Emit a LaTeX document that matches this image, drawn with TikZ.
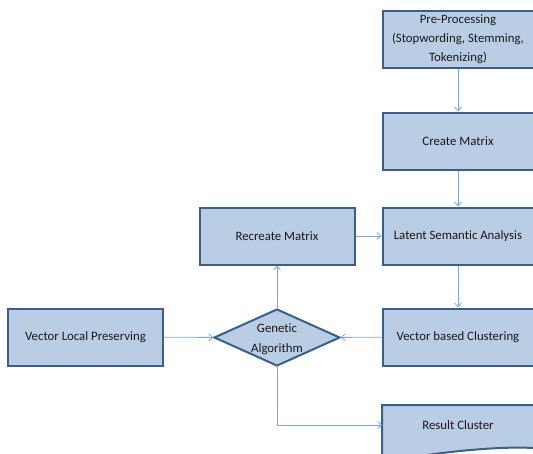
\documentclass[tikz,border=0pt]{standalone}
\usepackage{fontspec}
\setmainfont{Carlito}[Ligatures=NoCommon]
\usetikzlibrary{shapes.geometric,arrows.meta}
\definecolor{boxfill}{HTML}{B9CDE5}
\definecolor{boxline}{HTML}{3A5F8B}
\definecolor{arrowc}{HTML}{7FA6D6}
\tikzset{
  lbl/.style={font=\fontsize{12.8}{19}\selectfont, text=black!90},
  procbox/.style={draw=boxline, fill=boxfill, line width=2pt, rectangle,
    minimum width=151pt, minimum height=57pt, inner sep=2pt, align=center, lbl},
  decbox/.style={draw=boxline, fill=boxfill, line width=2pt, diamond,
    minimum width=126pt, minimum height=57pt, inner sep=0pt},
  conn/.style={draw=arrowc, line width=0.9pt,
    -{Straight Barb[length=4pt,width=7pt,line width=0.8pt]}}
}
\begin{document}
\begin{tikzpicture}[x=1pt,y=-1pt]
\useasboundingbox (0,0) rectangle (533,453);
\begin{scope}
\clip (0,0) rectangle (533,453);
\node[procbox] (pre) at (458,39) {Pre-Processing\\(Stopwording, Stemming,\\Tokenizing)};
\node[procbox] (cm) at (458,141) {Create Matrix};
\node[procbox] (lsa) at (458,236) {Latent Semantic Analysis};
\node[procbox, minimum width=155pt] (rm) at (277,236) {Recreate Matrix};
\node[procbox] (vbc) at (458,337) {Vector based Clustering};
\node[procbox, minimum width=155pt] (vlp) at (85.5,337) {Vector Local Preserving};
\node[decbox] (ga) at (277,337.5) {};
\node[lbl, align=center, font=\fontsize{12.8}{20}\selectfont] (gatext) at ([yshift=-2pt]ga.center) {Genetic\\Algorithm};
\node[rectangle, minimum width=151pt, minimum height=40pt, inner sep=0pt] (rc) at (458,425) {};
\draw[boxline, fill=boxfill, line width=2pt]
  (382,405) -- (534,405) -- (534,448)
  .. controls (495,446) and (440,452) .. (382,462) -- cycle;
\node[lbl] (rctext) at (rc.center) {Result Cluster};
\coordinate (bend) at (ga.south |- rc.west);
\draw[conn] (pre) -- (cm);
\draw[conn] (cm) -- (lsa);
\draw[conn] (rm) -- (lsa);
\draw[conn] (lsa) -- (vbc);
\draw[conn] (vbc) -- (ga);
\draw[conn] (vlp) -- (ga);
\draw[conn] (ga) -- (rm);
\draw[conn] (ga.south) -- (bend) -- (rc.west);
\end{scope}
\end{tikzpicture}
\end{document}
